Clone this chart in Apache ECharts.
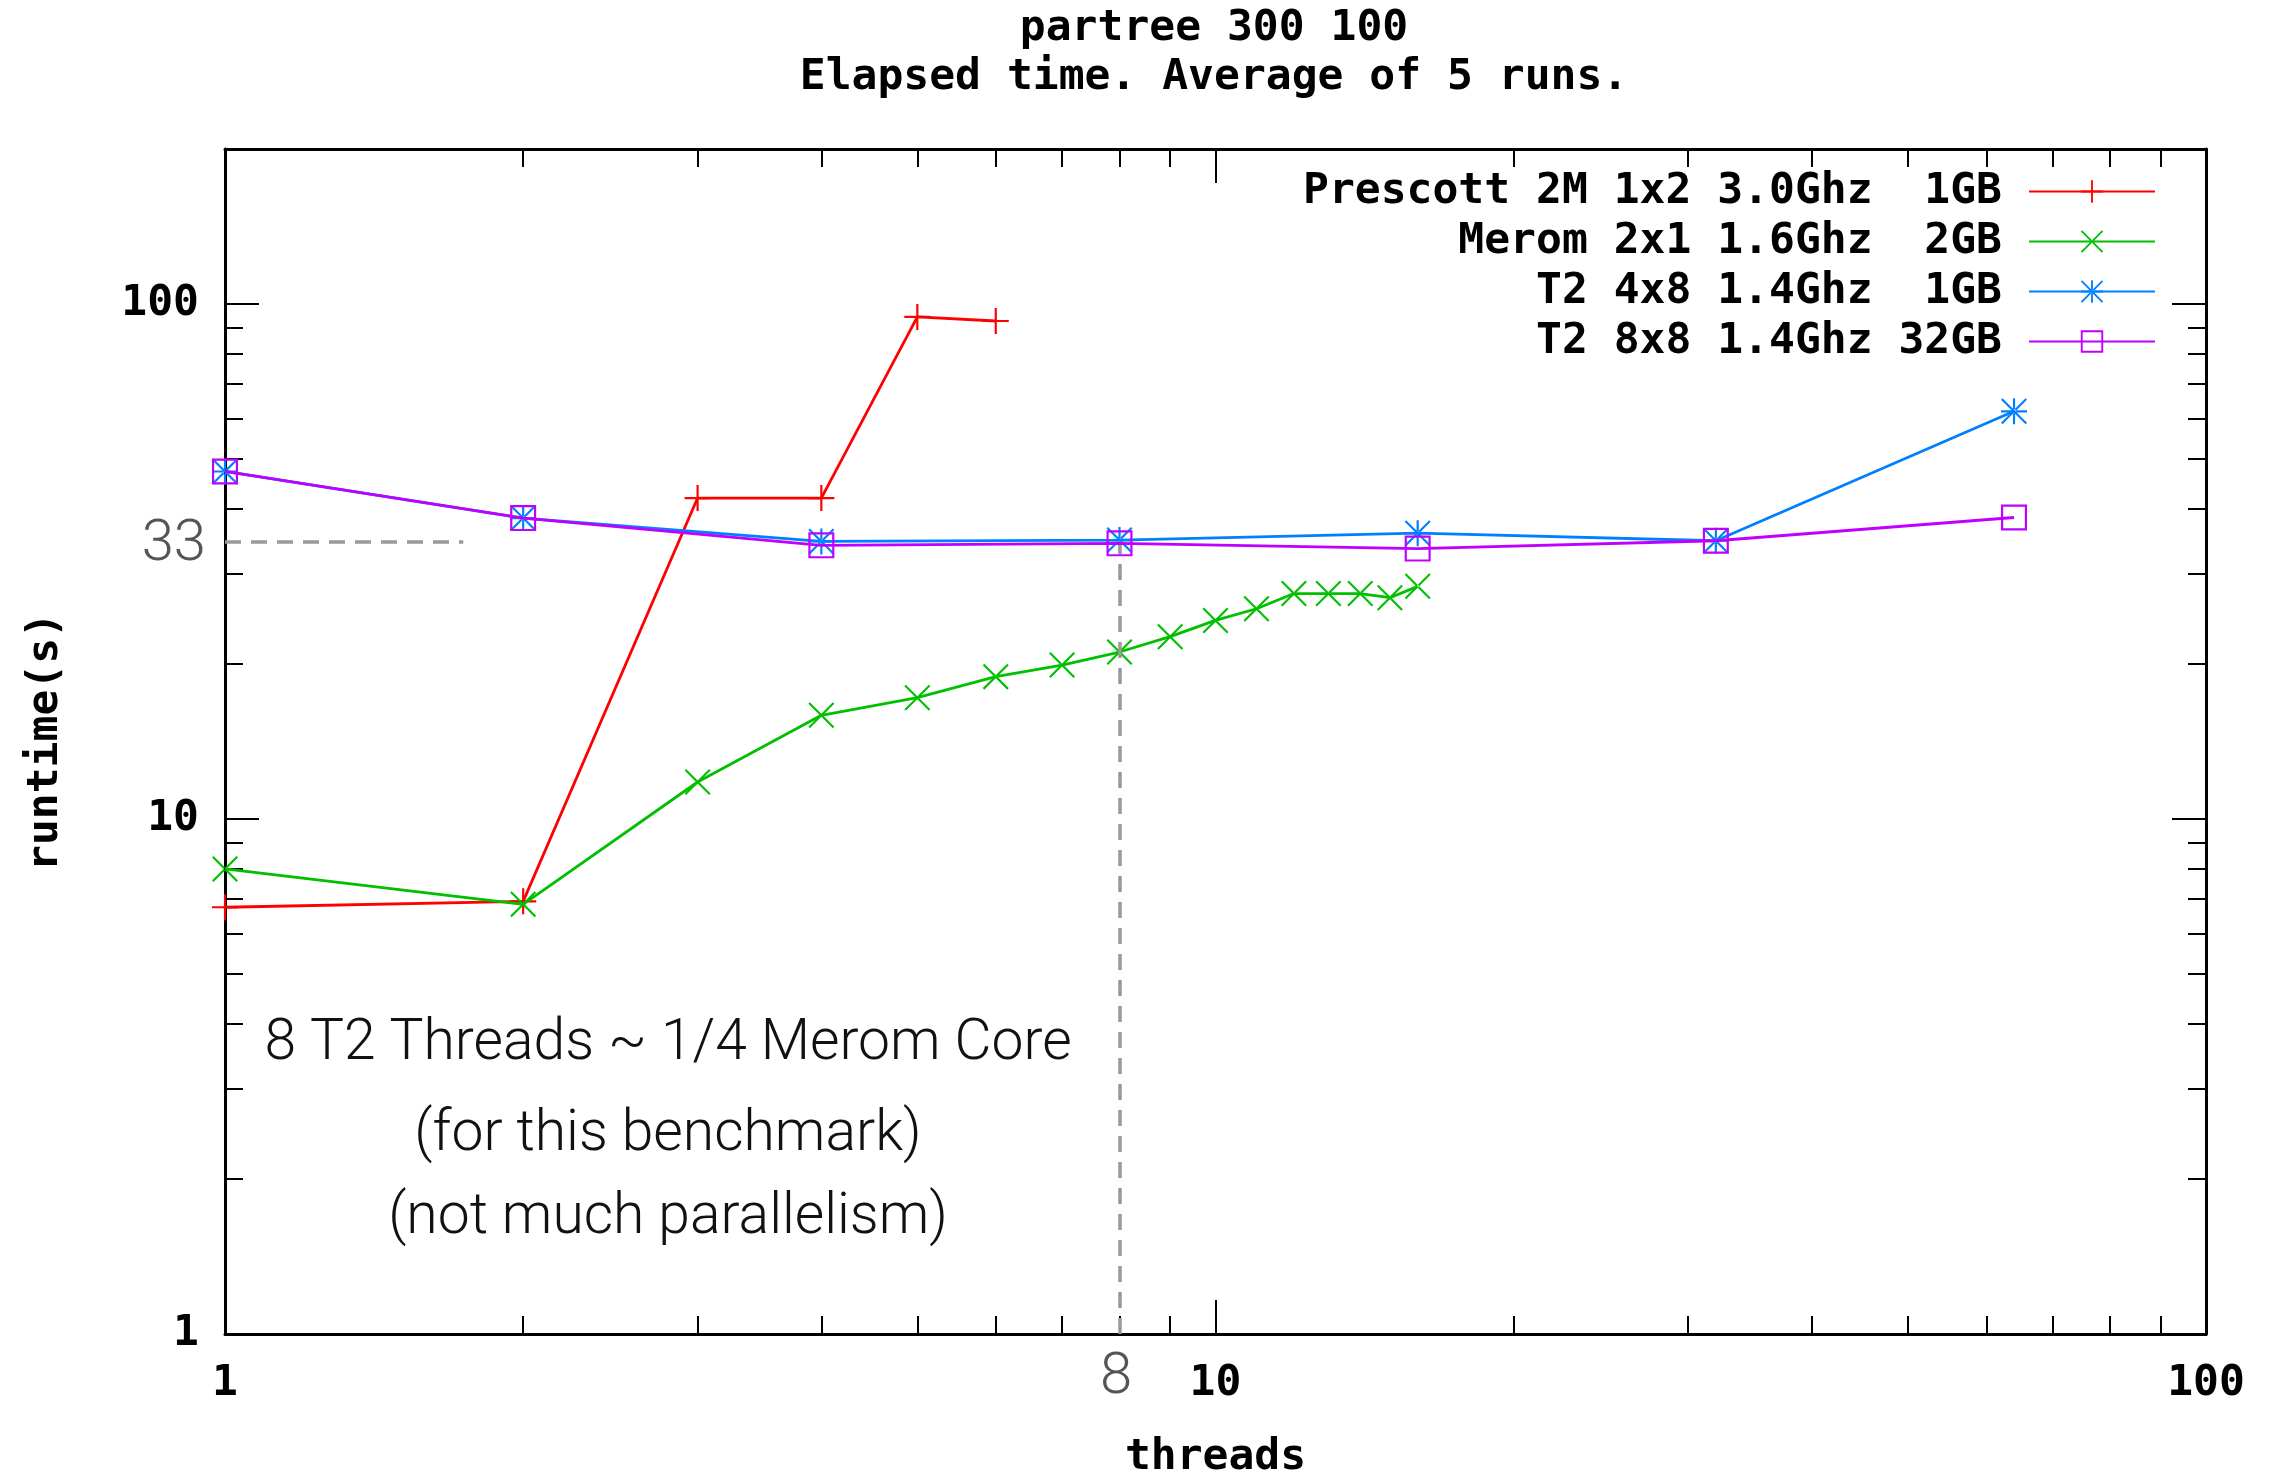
<!DOCTYPE html>
<html>
<head>
<meta charset="utf-8">
<script src="https://cdn.jsdelivr.net/npm/echarts@6/dist/echarts.min.js"></script>
<style>
html, body { margin: 0; padding: 0; background: #fff; }
#chart { width: 2273px; height: 1479px; }
</style>
</head>
<body>
<div id="chart"></div>
<script>
var MONO = '"DejaVu Sans Mono", "Liberation Mono", monospace';
var SANS = 'Roboto, "Liberation Sans", Arial, sans-serif';
var MONO_SIZE = 43;

// ---- data ----
var seriesNames = [
    'Prescott 2M 1x2 3.0Ghz  1GB',
    'Merom 2x1 1.6Ghz  2GB',
    'T2 4x8 1.4Ghz  1GB',
    'T2 8x8 1.4Ghz 32GB'
];
var colors = ['#ff0000', '#00c000', '#0080ff', '#c000ff'];

var prescottThreads = [1, 2, 3, 4, 5, 6];
var prescottTime = [6.74, 6.92, 42.0, 42.0, 94.4, 92.7];

var meromThreads = [1, 2, 3, 4, 5, 6, 7, 8, 9, 10, 11, 12, 13, 14, 15, 16];
var meromTime = [8.0, 6.83, 11.8, 15.9, 17.2, 18.9, 19.9, 21.1, 22.6, 24.3, 25.6, 27.4, 27.4, 27.4, 26.9, 28.3];

var t2Threads = [1, 2, 4, 8, 16, 32, 64];
var t2x4Time = [47.3, 38.4, 34.6, 34.8, 35.9, 34.7, 61.9];
var t2x8Time = [47.3, 38.4, 34.0, 34.3, 33.5, 34.7, 38.5];

var majorTicks = [1, 10, 100];
var minorTicks = [2, 3, 4, 5, 6, 7, 8, 9, 20, 30, 40, 50, 60, 70, 80, 90];

// annotation guides (grey dashed) in data units
var guideX = 8, guideY = 34.6, guideEndX = 1.74;

// ---- symbols (gnuplot style point types) ----
var symPlus = 'path://M0,11h24v2h-24z M11,0h2v24h-2z';
var symCross = 'path://M0,1.4L1.4,0L24,22.6L22.6,24Z M24,1.4L22.6,0L0,22.6L1.4,24Z';
var symStar = 'path://M0,11h24v2h-24z M11,0h2v24h-2z M0,1.4L1.4,0L24,22.6L22.6,24Z M24,1.4L22.6,0L0,22.6L1.4,24Z';
var symBox = 'path://M0,0h24v24h-24z M2,2v20h20v-20z';

function zip(xs, ys) {
    var res = [];
    for (var i = 0; i < xs.length; i++) {
        res.push([xs[i], ys[i]]);
    }
    return res;
}

var chart = echarts.init(document.getElementById('chart'), null, { renderer: 'canvas' });

function xAxisFor(grid, pos, ticks, len, labels, line) {
    return {
        type: 'log', logBase: 10, gridIndex: grid, position: pos,
        min: 1, max: 100,
        name: labels ? 'threads' : '',
        nameLocation: 'middle', nameGap: 102,
        nameTextStyle: { fontFamily: MONO, fontWeight: 'bold', fontSize: MONO_SIZE, color: '#000' },
        axisLine: { show: line, lineStyle: { color: '#000', width: 3 } },
        axisTick: { show: true, inside: true, length: len, customValues: ticks,
            lineStyle: { color: '#000', width: 2 } },
        axisLabel: { show: labels, customValues: majorTicks, margin: 28,
            fontFamily: MONO, fontWeight: 'bold', fontSize: MONO_SIZE, color: '#000' },
        splitLine: { show: false },
        minorTick: { show: false },
        minorSplitLine: { show: false }
    };
}

function yAxisFor(grid, pos, ticks, len, labels, line) {
    return {
        type: 'log', logBase: 10, gridIndex: grid, position: pos,
        min: 1, max: 200,
        name: labels ? 'runtime(s)' : '',
        nameLocation: 'middle', nameGap: 158, nameRotate: 90,
        nameTextStyle: { fontFamily: MONO, fontWeight: 'bold', fontSize: MONO_SIZE, color: '#000' },
        axisLine: { show: line, lineStyle: { color: '#000', width: 3 } },
        axisTick: { show: true, inside: true, length: len, customValues: ticks,
            lineStyle: { color: '#000', width: 2 } },
        axisLabel: { show: labels, customValues: majorTicks, margin: 26,
            fontFamily: MONO, fontWeight: 'bold', fontSize: MONO_SIZE, color: '#000' },
        splitLine: { show: false },
        minorTick: { show: false },
        minorSplitLine: { show: false }
    };
}

var gridBox = { left: 225, right: 67, top: 149, bottom: 145, outerBoundsMode: 'none', containLabel: false };

function lineSeries(idx, data, symbol) {
    return {
        name: seriesNames[idx],
        type: 'line',
        xAxisIndex: 0, yAxisIndex: 0,
        data: data,
        symbol: symbol,
        symbolSize: 26,
        showSymbol: true,
        showAllSymbol: true,
        color: colors[idx],
        lineStyle: { color: colors[idx], width: 2.8 },
        itemStyle: { color: colors[idx], borderWidth: 0 },
        emphasis: { disabled: true },
        z: 2 + idx
    };
}

var legendRows = [170, 220, 270, 320];
var legends = [];
for (var i = 0; i < seriesNames.length; i++) {
    legends.push({
        data: [seriesNames[i]],
        right: 117, top: legendRows[i],
        orient: 'horizontal', align: 'right',
        padding: 0,
        itemWidth: 126, itemHeight: 28,
        selectedMode: false,
        textStyle: { fontFamily: MONO, fontWeight: 'bold', fontSize: MONO_SIZE, color: '#000',
            padding: [0, 22, 0, 0] }
    });
}

chart.setOption({
    backgroundColor: '#fff',
    animation: false,
    legend: legends,
    grid: [
        Object.assign({}, gridBox),
        Object.assign({}, gridBox)
    ],
    xAxis: [
        xAxisFor(0, 'bottom', majorTicks, 34, true, true),
        xAxisFor(0, 'top', majorTicks, 34, false, true),
        xAxisFor(1, 'bottom', minorTicks, 18, false, false),
        xAxisFor(1, 'top', minorTicks, 18, false, false)
    ],
    yAxis: [
        yAxisFor(0, 'left', majorTicks, 34, true, true),
        yAxisFor(0, 'right', majorTicks, 34, false, true),
        yAxisFor(1, 'left', minorTicks, 18, false, false),
        yAxisFor(1, 'right', minorTicks, 18, false, false)
    ],
    series: [
        lineSeries(0, zip(prescottThreads, prescottTime), symPlus),
        lineSeries(1, zip(meromThreads, meromTime), symCross),
        lineSeries(2, zip(t2Threads, t2x4Time), symStar),
        lineSeries(3, zip(t2Threads, t2x8Time), symBox),
        {
            // grey dashed guides from the slide overlay
            type: 'line', xAxisIndex: 0, yAxisIndex: 0, data: [],
            silent: true, z: 10,
            markLine: {
                silent: true, symbol: 'none', animation: false,
                label: { show: false },
                lineStyle: { color: '#999', width: 3.5, type: [16, 10] },
                data: [
                    [{ coord: [1, guideY] }, { coord: [guideEndX, guideY] }],
                    [{ coord: [guideX, 1] }, { coord: [guideX, guideY] }]
                ]
            }
        }
    ],
    graphic: [
        { type: 'text', x: 1214, y: 29, style: { text: 'partree 300 100', fontFamily: MONO,
            fontWeight: 'bold', fontSize: MONO_SIZE, fill: '#000', align: 'center', verticalAlign: 'middle' } },
        { type: 'text', x: 1214, y: 78, style: { text: 'Elapsed time. Average of 5 runs.', fontFamily: MONO,
            fontWeight: 'bold', fontSize: MONO_SIZE, fill: '#000', align: 'center', verticalAlign: 'middle' } },
        { type: 'text', x: 206, y: 545, z: 20, style: { text: '33', fontFamily: SANS, fontWeight: 300,
            fontSize: 58, fill: '#555', align: 'right', verticalAlign: 'middle' } },
        { type: 'text', x: 1116, y: 1378, z: 20, style: { text: '8', fontFamily: SANS, fontWeight: 300,
            fontSize: 58, fill: '#555', align: 'center', verticalAlign: 'middle' } },
        { type: 'text', x: 668, y: 1045, z: 20, style: { text: '8 T2 Threads ~ 1/4 Merom Core', fontFamily: SANS,
            fontWeight: 300, fontSize: 57, fill: '#111', align: 'center', verticalAlign: 'middle' } },
        { type: 'text', x: 668, y: 1136, z: 20, style: { text: '(for this benchmark)', fontFamily: SANS,
            fontWeight: 300, fontSize: 57, fill: '#111', align: 'center', verticalAlign: 'middle' } },
        { type: 'text', x: 668, y: 1219, z: 20, style: { text: '(not much parallelism)', fontFamily: SANS,
            fontWeight: 300, fontSize: 57, fill: '#111', align: 'center', verticalAlign: 'middle' } }
    ]
});
</script>
</body>
</html>
